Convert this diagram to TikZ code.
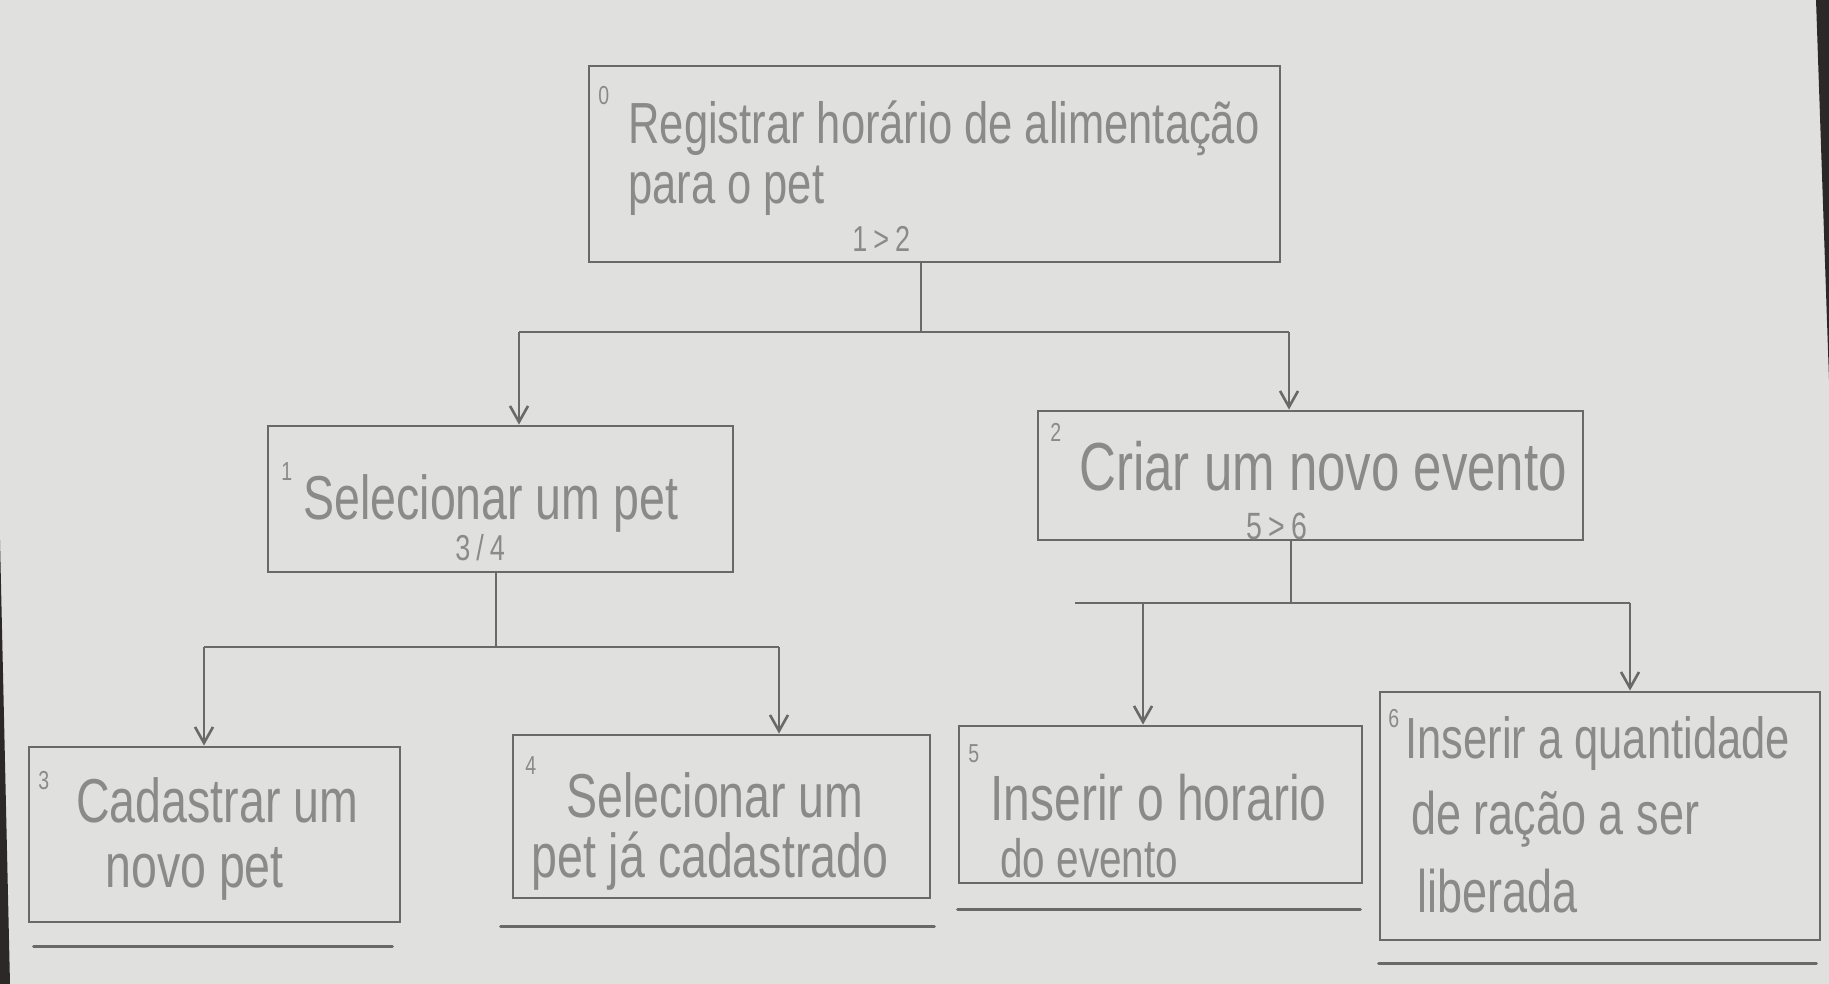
\documentclass[tikz,border=0pt]{standalone}
\usepackage{fontspec}
\newfontfamily\hand[FakeStretch=0.75]{Liberation Sans}
\usetikzlibrary{arrows.meta,calc}
\definecolor{paper}{RGB}{224,224,222}
\definecolor{pencil}{RGB}{105,105,105}
\definecolor{ink}{RGB}{138,138,138}
\definecolor{edge}{RGB}{45,40,40}
\newcommand{\hwsize}[1]{\fontsize{#1}{#1}\selectfont}
\begin{document}
\begin{tikzpicture}[x=0.5pt,y=-0.5pt,
  box/.style={draw=pencil, line width=1.4pt, rectangle, inner sep=0pt},
  conn/.style={draw=pencil, line width=1.3pt},
  arr/.style={conn, -{Straight Barb[length=8pt,width=9pt]}},
  txt/.style={anchor=base west, inner sep=0pt, text=ink, font=\hand\hwsize{#1}},
  txt/.default=30,
  idx/.style={anchor=base west, inner sep=0pt, text=ink, font=\hand\hwsize{13}},
  uline/.style={draw=pencil, line width=1.5pt, line cap=round}]
\fill[paper] (0,0) rectangle (1829,984);
\useasboundingbox (0,0) rectangle (1829,984);
% dark table edge showing past the sheet
\fill[edge] (0,540) -- (10,984) -- (0,984) -- cycle;
\fill[edge] (1816,0) -- (1829,0) -- (1829,380) -- cycle;

% boxes
\node[box, minimum width=345.5pt, minimum height=98pt]   (b0) at (934.5,164) {};
\node[box, minimum width=232.5pt, minimum height=73pt]   (b1) at (500.5,499) {};
\node[box, minimum width=272.5pt, minimum height=64.5pt] (b2) at (1310.5,475.5) {};
\node[box, minimum width=185.5pt, minimum height=87.5pt] (b3) at (214.5,834.5) {};
\node[box, minimum width=208.5pt, minimum height=81.5pt] (b4) at (721.5,816.5) {};
\node[box, minimum width=201.5pt, minimum height=78.5pt] (b5) at (1160.5,804.5) {};
\node[box, minimum width=220pt,   minimum height=124pt]  (b6) at (1600,816) {};

% texts
\node[idx] (n0) at (598,105) {0};
\node[txt=29] (t0a) at (628,144) {Registrar horário de alimentação};
\node[txt=29] (t0b) at (628,204) {para o pet};
\node[txt=18] (t0c) at (852,251) {1\,>\,2};

\node[idx] (n1) at (281,480) {1};
\node[txt=31] (t1a) at (303,519) {Selecionar um pet};
\node[txt=18] (t1b) at (455,560) {3\,/\,4};

\node[idx] (n2) at (1050,441) {2};
\node[txt=34] (t2a) at (1079,490) {Criar um novo evento};
\node[txt=19] (t2b) at (1246,539) {5\,>\,6};

\node[idx] (n3) at (38,789) {3};
\node[txt=31] (t3a) at (76,822) {Cadastrar um};
\node[txt=31] (t3b) at (105,887) {novo pet};

\node[idx] (n4) at (525,774) {4};
\node[txt=31] (t4a) at (566,817) {Selecionar um};
\node[txt=31] (t4b) at (531,877) {pet já cadastrado};

\node[idx] (n5) at (968,762) {5};
\node[txt=32] (t5a) at (990,820) {Inserir o horario};
\node[txt=27] (t5b) at (1000,877) {do evento};

\node[idx] (n6) at (1388,727) {6};
\node[txt=29] (t6a) at (1405,758) {Inserir a quantidade};
\node[txt=30] (t6b) at (1411,834) {de ração a ser};
\node[txt=30] (t6c) at (1417,912) {liberada};

% connectors
\coordinate (j0)  at (921,332);
\coordinate (j0l) at (519,332);
\coordinate (j0r) at (1289,332);
\draw[conn] (b0.south -| j0) -- (j0);
\draw[conn] (j0l) -- (j0r);
\draw[arr] (j0l) -- (j0l |- b1.north);
\draw[arr] (j0r) -- (j0r |- b2.north);

\coordinate (j1)  at (496,647);
\coordinate (j1l) at (204,647);
\coordinate (j1r) at (779,647);
\draw[conn] (b1.south -| j1) -- (j1);
\draw[conn] (j1l) -- (j1r);
\draw[arr] (j1l) -- (j1l |- b3.north);
\draw[arr] (j1r) -- (j1r |- b4.north);

\coordinate (j2)  at (1291,603);
\coordinate (j2e) at (1075,603);
\coordinate (j2l) at (1143,603);
\coordinate (j2r) at (1630,603);
\draw[conn] (b2.south -| j2) -- (j2);
\draw[conn] (j2e) -- (j2r);
\draw[arr] (j2l) -- (j2l |- b5.north);
\draw[arr] (j2r) -- (j2r |- b6.north);

% underlines beneath the leaf boxes
\draw[uline] ($(b3.south west)+(6,23)$) -- ($(b3.south east)+(-9,23)$);
\draw[uline] ($(b4.south west)+(-11,27)$) -- ($(b4.south east)+(3,27)$);
\draw[uline] ($(b5.south west)+(0,25)$) -- ($(b5.south east)+(-3,25)$);
\draw[uline] ($(b6.south west)+(0,22)$) -- ($(b6.south east)+(-5,22)$);
\end{tikzpicture}
\end{document}
